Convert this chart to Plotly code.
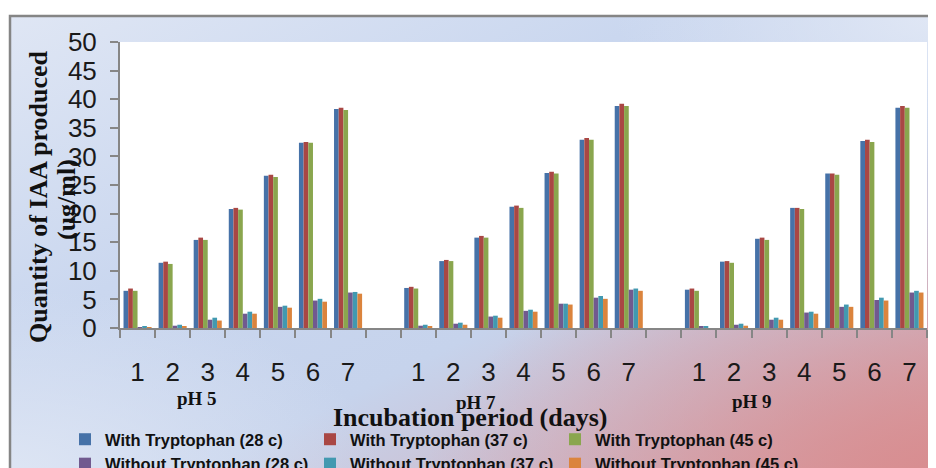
import base64
import plotly.graph_objects as go

# ---------------- data ----------------
days = ["1", "2", "3", "4", "5", "6", "7"]
groups = ["pH 5", "pH 7", "pH 9"]
series_names = [
    "With Tryptophan (28 c)", "With Tryptophan (37 c)", "With Tryptophan (45 c)",
    "Without Tryptophan (28 c)", "Without Tryptophan (37 c)", "Without Tryptophan (45 c)",
]
# values listed pH 5 (days 1-7), pH 7 (days 1-7), pH 9 (days 1-7)
with_trp_28 = [6.5, 11.4, 15.4, 20.8, 26.6, 32.4, 38.3,
               7.0, 11.7, 15.8, 21.2, 27.1, 32.9, 38.8,
               6.7, 11.6, 15.6, 21.0, 27.0, 32.7, 38.5]
with_trp_37 = [6.9, 11.6, 15.8, 21.0, 26.8, 32.5, 38.5,
               7.2, 11.9, 16.1, 21.4, 27.3, 33.2, 39.2,
               6.9, 11.7, 15.8, 21.0, 27.0, 32.9, 38.8]
with_trp_45 = [6.5, 11.2, 15.4, 20.7, 26.4, 32.4, 38.1,
               6.9, 11.7, 15.8, 21.0, 27.0, 32.9, 38.8,
               6.5, 11.4, 15.4, 20.8, 26.8, 32.5, 38.5]
without_trp_28 = [0.03, 0.4, 1.45, 2.5, 3.7, 4.8, 6.2,
                  0.4, 0.75, 2.0, 3.0, 4.25, 5.3, 6.7,
                  0.2, 0.57, 1.45, 2.7, 3.7, 4.9, 6.2]
without_trp_37 = [0.2, 0.57, 1.8, 2.85, 3.9, 5.1, 6.3,
                  0.57, 0.93, 2.15, 3.2, 4.25, 5.6, 6.9,
                  0.2, 0.75, 1.8, 2.85, 4.1, 5.3, 6.5]
without_trp_45 = [0.03, 0.2, 1.3, 2.5, 3.55, 4.6, 6.0,
                  0.2, 0.57, 1.8, 2.85, 4.1, 5.1, 6.5,
                  0.0, 0.4, 1.45, 2.5, 3.7, 4.8, 6.2]
all_values = [with_trp_28, with_trp_37, with_trp_45,
              without_trp_28, without_trp_37, without_trp_45]
colors = ["#4672a8", "#a94744", "#8aa64e", "#715a8f", "#4299b0", "#db843d"]
y_ticks = [0, 5, 10, 15, 20, 25, 30, 35, 40, 45, 50]

# ---------------- positions (one empty slot between pH groups) ----------------
slot = len(days) + 1
x_pos = [g * slot + d for g in range(len(groups)) for d in range(len(days))]
tick_text = days * len(groups)
n_slots = slot * len(groups) - 1
boundaries = [i - 0.5 for i in range(n_slots + 1)]

fig = go.Figure()
for name, vals, col in zip(series_names, all_values, colors):
    fig.add_trace(go.Bar(x=x_pos, y=vals, name=name, marker=dict(color=col, line=dict(width=0))))

# ---------------- background gradient (svg image) ----------------
svg = """<svg xmlns='http://www.w3.org/2000/svg' width='930' height='455' viewBox='0 0 930 455' preserveAspectRatio='none'>
<defs>
<linearGradient id='g' x1='0' y1='0' x2='1' y2='1'>
<stop offset='0' stop-color='#dfe6f4'/>
<stop offset='0.35' stop-color='#cad7ef'/>
<stop offset='0.6' stop-color='#c6d3ec'/>
<stop offset='0.8' stop-color='#cdbccd'/>
<stop offset='1' stop-color='#d99ea1'/>
</linearGradient>
<radialGradient id='r' cx='1' cy='1' r='0.55'>
<stop offset='0' stop-color='#d88c8f' stop-opacity='0.95'/>
<stop offset='1' stop-color='#d88c8f' stop-opacity='0'/>
</radialGradient>
<radialGradient id='w' cx='1' cy='0' r='0.35'>
<stop offset='0' stop-color='#e0e7f5' stop-opacity='1'/>
<stop offset='1' stop-color='#e0e7f5' stop-opacity='0'/>
</radialGradient>
<radialGradient id='b' cx='0' cy='1' r='0.4'>
<stop offset='0' stop-color='#dde5f4' stop-opacity='1'/>
<stop offset='1' stop-color='#dde5f4' stop-opacity='0'/>
</radialGradient>
</defs>
<rect width='930' height='455' fill='url(#g)'/>
<rect width='930' height='455' fill='url(#r)'/>
<rect width='930' height='455' fill='url(#w)'/>
<rect width='930' height='455' fill='url(#b)'/>
</svg>"""
svg_uri = "data:image/svg+xml;base64," + base64.b64encode(svg.encode()).decode()

# ---------------- page-pixel helpers (page body has an 8px margin) ----------------
W, H = 936, 468
OFF = 8
PL, PR, PT, PB = 120, 927, 42, 328          # plot box in page pixels
ML, MR = PL - OFF, W - (PR - OFF)
MT, MB = PT - OFF, H - (PB - OFF)
def px(x):
    return (x - PL) / (PR - PL)
def py(y):
    return (PB - y) / (PB - PT)
def cx(x):
    return (x - OFF) / W
def cy(y):
    return 1 - (y - OFF) / H

tick_font = dict(family="Liberation Sans Narrow, Liberation Sans, Arial", size=26, color="#1a1a1a")
serif_bold = dict(family="Liberation Serif, Times New Roman, serif", color="#111111", weight="bold")

fig.update_layout(
    width=W, height=H, autosize=False,
    margin=dict(l=ML, r=MR, t=MT, b=MB, autoexpand=False),
    paper_bgcolor="white", plot_bgcolor="white",
    barmode="group", bargap=0.2, bargroupgap=0,
    showlegend=True,
    legend=dict(
        orientation="h", xref="container", yref="container",
        x=cx(65), y=cy(422), xanchor="left", yanchor="top",
        entrywidth=200, entrywidthmode="pixels",
        font=dict(family="Liberation Sans, Arial", size=16.5, color="#111111", weight="bold"),
        bgcolor="rgba(0,0,0,0)", itemclick=False, tracegroupgap=0,
    ),
    xaxis=dict(
        range=[-0.5, n_slots - 0.5], tickmode="array", tickvals=x_pos, ticktext=tick_text,
        ticks="", showline=True, linecolor="#868686", linewidth=2, automargin=False,
        showgrid=False, zeroline=False, tickfont=tick_font, ticklabelstandoff=20,
        minor=dict(tickmode="array", tickvals=boundaries, ticks="outside", ticklen=8,
                   tickwidth=2, tickcolor="#868686", showgrid=False),
    ),
    yaxis=dict(
        range=[0, 50], tickmode="array", tickvals=y_ticks, ticks="outside", ticklen=8,
        tickwidth=2, tickcolor="#868686", showline=True, linecolor="#868686", linewidth=2,
        showgrid=False, zeroline=False, tickfont=tick_font, ticklabelstandoff=8, automargin=False,
    ),
    images=[dict(source=svg_uri, xref="paper", yref="paper", x=px(10), y=py(16),
                 sizex=px(940) - px(10), sizey=py(16) - py(471), xanchor="left", yanchor="top",
                 sizing="stretch", layer="below")],
    shapes=[
        dict(type="rect", xref="paper", yref="paper", x0=0, x1=1, y0=0, y1=1,
             fillcolor="white", line=dict(width=0), layer="below"),
        dict(type="rect", xref="paper", yref="paper", x0=px(10), x1=px(960), y0=py(16), y1=py(490),
             fillcolor="rgba(0,0,0,0)", line=dict(color="#858585", width=2.5), layer="below"),
    ],
)

annotations = []
# y axis title (two lines)
annotations.append(dict(text="Quantity of IAA produced", xref="paper", yref="paper",
                        x=px(38), y=py(197), textangle=-90, showarrow=False,
                        font=dict(size=26, **serif_bold), xanchor="center", yanchor="middle"))
annotations.append(dict(text="(ug/ml)", xref="paper", yref="paper",
                        x=px(66), y=py(200), textangle=-90, showarrow=False,
                        font=dict(size=26, **serif_bold), xanchor="center", yanchor="middle"))
# x axis title
annotations.append(dict(text="Incubation period (days)", xref="paper", yref="paper",
                        x=px(470), y=py(418), showarrow=False,
                        font=dict(size=26, **serif_bold), xanchor="center", yanchor="middle"))
# group labels
group_px = [(197, 398), (476, 402), (752, 401)]
for label, (gx, gy) in zip(groups, group_px):
    annotations.append(dict(text=label, xref="paper", yref="paper", x=px(gx), y=py(gy),
                            showarrow=False, font=dict(size=19, **serif_bold),
                            xanchor="center", yanchor="middle"))
fig.update_layout(annotations=annotations)

fig.write_html("out.html")
